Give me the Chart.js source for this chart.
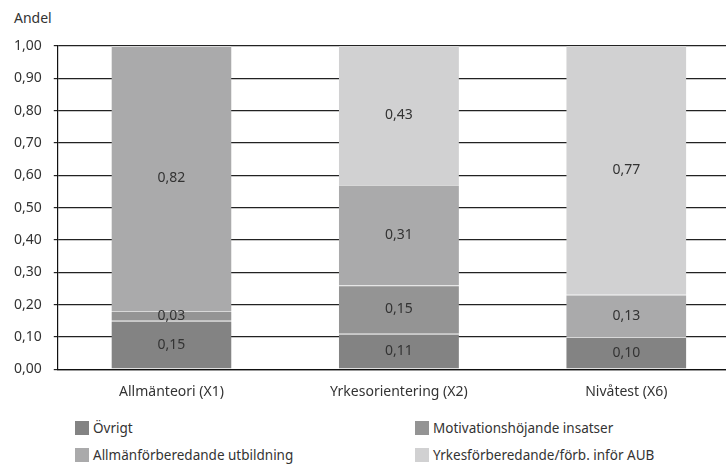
<!DOCTYPE html>
<html>
<head>
<meta charset="utf-8">
<script src="https://cdn.jsdelivr.net/npm/chart.js@4.4.1/dist/chart.umd.min.js"></script>
<style>
  html, body { margin: 0; padding: 0; background: #fff; overflow: hidden; }
  #wrap { position: relative; width: 726px; height: 464px; overflow: hidden; font-family: "Noto Sans", sans-serif; color: #333; }
  #chartBox { position: absolute; left: 0; top: 0; width: 740px; height: 406px; }
  #andel { position: absolute; left: 14px; top: 8px; font-size: 14px; }
  .leg { position: absolute; font-size: 13.5px; line-height: 16px; white-space: nowrap; }
  .leg span.sw { display: inline-block; width: 14px; height: 14px; vertical-align: -2px; margin-right: 4px; }
</style>
</head>
<body>
<div id="wrap">
  <div id="andel">Andel</div>
  <div id="chartBox"><canvas id="c"></canvas></div>
  <div id="legend"></div>
</div>
<script>
  var categories = ['Allmänteori (X1)', 'Yrkesorientering (X2)', 'Nivåtest (X6)'];
  var seriesNames = ['Övrigt', 'Motivationshöjande insatser', 'Allmänförberedande utbildning', 'Yrkesförberedande/förb. inför AUB'];
  var ovrigt = [0.15, 0.11, 0.10];
  var motivation = [0.03, 0.15, 0];
  var allman = [0.82, 0.31, 0.13];
  var yrkes = [0, 0.43, 0.77];
  var colors = ['#838383', '#949494', '#aaaaab', '#d1d1d2'];

  var fmt = function(v) { return v.toFixed(2).replace('.', ','); };

  // legend in two columns under the chart
  var legPos = [[75, 420], [415, 420], [75, 447], [415, 447]];
  var legend = document.getElementById('legend');
  seriesNames.forEach(function(name, i) {
    var d = document.createElement('div');
    d.className = 'leg';
    d.style.left = legPos[i][0] + 'px';
    d.style.top = legPos[i][1] + 'px';
    d.innerHTML = '<span class="sw" style="background:' + colors[i] + '"></span>' + name;
    legend.appendChild(d);
  });

  var valueLabels = {
    id: 'valueLabels',
    afterDatasetsDraw: function(chart) {
      var ctx = chart.ctx;
      ctx.save();
      ctx.font = '14px "Noto Sans", sans-serif';
      ctx.fillStyle = '#333';
      ctx.textAlign = 'center';
      ctx.textBaseline = 'middle';
      chart.data.datasets.forEach(function(ds, i) {
        chart.getDatasetMeta(i).data.forEach(function(bar, j) {
          var v = ds.data[j];
          if (!v) return;
          ctx.fillText(fmt(v), bar.x, (bar.y + bar.base) / 2);
        });
      });
      ctx.restore();
    }
  };

  var series = [ovrigt, motivation, allman, yrkes];
  var datasets = series.map(function(d, i) {
    return {
      label: seriesNames[i],
      data: d,
      backgroundColor: colors[i],
      borderColor: '#d8d8d8',
      borderWidth: {top: 1, left: 0, right: 0, bottom: 0},
      categoryPercentage: 1,
      barPercentage: 0.528
    };
  });

  new Chart(document.getElementById('c'), {
    type: 'bar',
    data: { labels: categories, datasets: datasets },
    plugins: [valueLabels],
    options: {
      responsive: true,
      maintainAspectRatio: false,
      animation: false,
      layout: { padding: { top: 46, left: 2, right: 0, bottom: 0 } },
      plugins: { legend: { display: false }, tooltip: { enabled: false } },
      scales: {
        x: {
          stacked: true,
          grid: { display: false },
          border: { color: '#111', width: 1.2 },
          ticks: { color: '#333', font: { family: 'Noto Sans', size: 14 }, padding: 6 }
        },
        y: {
          stacked: true,
          min: 0,
          max: 1,
          grid: { color: '#222', lineWidth: 1.2, tickLength: 4 },
          border: { color: '#111', width: 1.2 },
          ticks: {
            stepSize: 0.1,
            color: '#333',
            font: { family: 'Noto Sans', size: 14 },
            padding: 12,
            callback: function(v) { return fmt(v); }
          }
        }
      }
    }
  });
</script>
</body>
</html>
